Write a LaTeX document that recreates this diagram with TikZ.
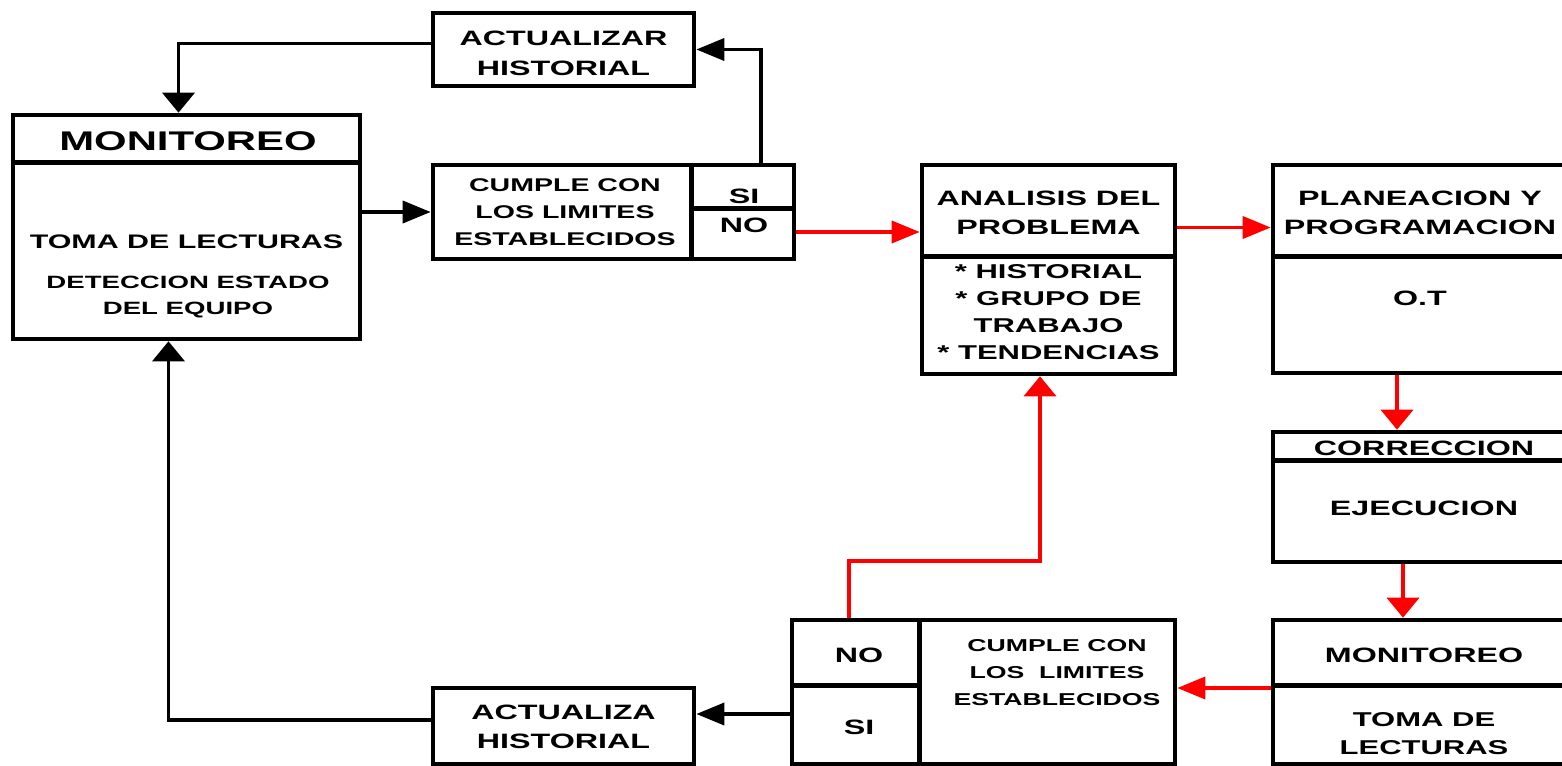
\documentclass[tikz,border=0pt]{standalone}
\usepackage{fontspec}
\setmainfont{Liberation Sans}[FakeStretch=1.55]
\usetikzlibrary{arrows.meta,calc,positioning}
\tikzstyle{proceso} = [rectangle, black, draw, line width=2.3pt, inner sep=0pt]
\tikzstyle{divisor} = [black, line width=2.3pt]
\tikzstyle{texto}   = [align=center, inner sep=0pt, font=\fontsize{10.4}{14.5}\selectfont\bfseries]
\tikzstyle{titulo}  = [texto, font=\fontsize{13.5}{16}\selectfont\bfseries]
\tikzstyle{chico}   = [texto, font=\fontsize{9.2}{13.5}\selectfont\bfseries]
\tikzstyle{flujo}   = [line width=1.8pt]
\tikzstyle{hflecha} = [flujo, -{Triangle[length=14pt,width=11pt]}]
\tikzstyle{vflecha} = [flujo, -{Triangle[length=10pt,width=16pt]}]

\begin{document}
\begin{tikzpicture}[x=0.5pt, y=-0.5pt]
      \useasboundingbox (0,0) rectangle (1562,765);
      % cajas
      \node[proceso, minimum width=173.5pt, minimum height=112pt] (mon) at (186.5,227) {};
      \node[proceso, minimum width=130.5pt, minimum height=36.5pt] (actA) at (563.5,49.5) {};
      \node[proceso, minimum width=180.5pt, minimum height=47pt] (cumA) at (613.5,212) {};
      \node[proceso, minimum width=126.5pt, minimum height=104.5pt] (ana) at (1048.5,269.5) {};
      \node[proceso, minimum width=151pt, minimum height=104pt] (plan) at (1424,269) {};
      \node[proceso, minimum width=151pt, minimum height=65pt] (corr) at (1424,497) {};
      \node[proceso, minimum width=151pt, minimum height=72pt] (mon2) at (1424,692) {};
      \node[proceso, minimum width=191.5pt, minimum height=72pt] (cum2) at (983.5,692) {};
      \node[proceso, minimum width=130.5pt, minimum height=38pt] (actB) at (563.5,726) {};
      % divisiones
      \draw[divisor] ([yshift=-25pt]mon.north west) -- ([yshift=-25pt]mon.north east);
      \draw[divisor] ([xshift=130.5pt]cumA.north west) -- ([xshift=130.5pt]cumA.south west);
      \draw[divisor] ([xshift=130.5pt,yshift=-23pt]cumA.north west) -- ([yshift=-23pt]cumA.north east);
      \draw[divisor] ([yshift=-47pt]ana.north west) -- ([yshift=-47pt]ana.north east);
      \draw[divisor] ([yshift=-47pt]plan.north west) -- ([yshift=-47pt]plan.north east);
      \draw[divisor] ([yshift=-15.5pt]corr.north west) -- ([yshift=-15.5pt]corr.north east);
      \draw[divisor] ([yshift=-34pt]mon2.north west) -- ([yshift=-34pt]mon2.north east);
      \draw[divisor] ([xshift=65pt]cum2.north west) -- ([xshift=65pt]cum2.south west);
      \draw[divisor] ([yshift=-34pt]cum2.north west) -- ([xshift=65pt,yshift=-34pt]cum2.north west);
      % textos
      \node[titulo] (monT) at (188,141) {MONITOREO};
      \node[texto, font=\fontsize{9.8}{14}\selectfont\bfseries] (monL) at (186.5,242) {TOMA DE LECTURAS};
      \node[chico, font=\fontsize{8.9}{13}\selectfont\bfseries] (monD) at (188,297) {DETECCION ESTADO\\DEL EQUIPO};
      \node[texto, font=\fontsize{10.4}{15}\selectfont\bfseries] (actAT) at (563.5,53) {ACTUALIZAR\\HISTORIAL};
      \node[chico] (cumAT) at (565,212) {CUMPLE CON\\LOS LIMITES\\ESTABLECIDOS};
      \node[texto] (siA) at (744,196) {SI};
      \node[texto] (noA) at (744,225) {NO};
      \node[texto] (anaT) at (1048.5,213) {ANALISIS DEL\\PROBLEMA};
      \node[texto, font=\fontsize{10}{13.5}\selectfont\bfseries] (anaL) at (1048.5,312) {* HISTORIAL\\* GRUPO DE\\TRABAJO\\* TENDENCIAS};
      \node[texto] (planT) at (1420,213) {PLANEACION Y\\PROGRAMACION};
      \node[texto] (planO) at (1420,298) {O.T};
      \node[texto] (corrT) at (1424,448) {CORRECCION};
      \node[texto] (corrE) at (1424,508) {EJECUCION};
      \node[texto] (mon2T) at (1424,655) {MONITOREO};
      \node[texto, font=\fontsize{10}{14}\selectfont\bfseries] (mon2L) at (1424,734) {TOMA DE\\LECTURAS};
      \node[texto] (noB) at (859,655) {NO};
      \node[texto] (siB) at (859,727) {SI};
      \node[chico, font=\fontsize{8.6}{13.5}\selectfont\bfseries] (cum2T) at (1057,673) {CUMPLE CON\\LOS~~LIMITES\\ESTABLECIDOS};
      \node[texto] (actBT) at (563.5,727) {ACTUALIZA\\HISTORIAL};
      % flechas negras
      \draw[vflecha] ([yshift=3pt]actA.west) -| ([xshift=-4pt]mon.north);
      \draw[hflecha] (mon.east |- cumA.west) -- (cumA.west);
      \draw[hflecha] ([xshift=165pt]cumA.north west) |- (actA.east);
      \draw[hflecha] ([yshift=6pt]cum2.west |- actB.east) -- ([yshift=6pt]actB.east);
      \draw[vflecha] ([yshift=3pt]actB.west) -| ([xshift=-9pt]mon.south);
      % flechas rojas
      \draw[hflecha, red] ([yshift=-10pt]cumA.east) -- ([yshift=-10pt]cumA.east -| ana.west);
      \draw[hflecha, red] ([yshift=21pt]ana.east) -- ([yshift=21pt]ana.east -| plan.west);
      \draw[vflecha, red] ([xshift=-13.5pt]plan.south) -- ([xshift=-13.5pt]corr.north);
      \draw[vflecha, red] ([xshift=-10.5pt]corr.south) -- ([xshift=-10.5pt]mon2.north);
      \draw[hflecha, red] ([yshift=2pt]mon2.west) -- ([yshift=2pt]mon2.west -| cum2.east);
      \draw[vflecha, red] ([xshift=29.5pt]cum2.north west) -- ++(0,-57) -| ([xshift=-4.25pt]ana.south);
    \end{tikzpicture}
\end{document}
